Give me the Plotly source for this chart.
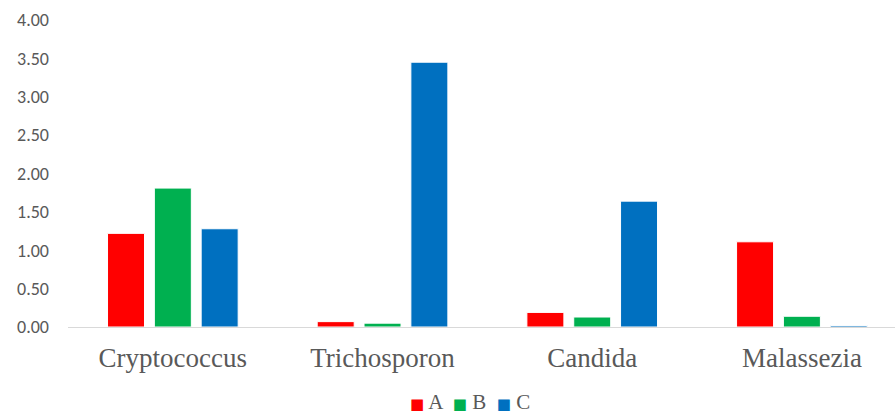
import plotly.graph_objects as go

# Categories and series values
genera = ["Cryptococcus", "Trichosporon", "Candida", "Malassezia"]
series_names = ["A", "B", "C"]
series_a = [1.22, 0.07, 0.19, 1.11]
series_b = [1.81, 0.05, 0.13, 0.14]
series_c = [1.28, 3.45, 1.64, 0.02]
series_colors = ["#FF0000", "#00B050", "#0070C0"]
y_ticks = [0, 0.5, 1.0, 1.5, 2.0, 2.5, 3.0, 3.5, 4.0]
y_tick_labels = [f"{v:.2f}" for v in y_ticks]

fig = go.Figure()
for name, vals, col in zip(series_names, [series_a, series_b, series_c], series_colors):
    fig.add_trace(go.Bar(
        x=genera, y=vals, name=name,
        marker=dict(color=col, line=dict(color="white", width=1)),
        showlegend=False,
    ))

# Compact legend line built from the series names and colours
legend_text = "  ".join(
    f'<span style="color:{c}; font-family:DejaVu Sans; font-size:15px">■</span> {n}'
    for n, c in zip(series_names, series_colors)
)
fig.add_annotation(
    text=legend_text, xref="paper", yref="paper",
    x=(470 - 68) / (895 - 68), y=-0.245, xanchor="center", yanchor="middle",
    showarrow=False,
    font=dict(family="Liberation Serif", size=21, color="#595959"),
)

fig.update_layout(
    width=895, height=414,
    margin=dict(l=68, r=0, t=20, b=87),
    paper_bgcolor="white", plot_bgcolor="white",
    barmode="group", bargap=0.33, bargroupgap=0.21,
    xaxis=dict(
        range=[-0.5, 3.444],
        showline=True, linecolor="#D9D9D9", linewidth=1,
        showgrid=False, ticks="", zeroline=False,
        tickfont=dict(family="Liberation Serif", size=27, color="#595959"),
        ticklabelstandoff=7,
    ),
    yaxis=dict(
        range=[0, 4.0],
        tickvals=y_ticks, ticktext=y_tick_labels,
        showline=False, showgrid=False, zeroline=False, ticks="",
        tickfont=dict(family="Carlito, Lato", size=18, color="#595959"),
        ticklabelstandoff=18,
    ),
)

fig.write_html("out.html")
